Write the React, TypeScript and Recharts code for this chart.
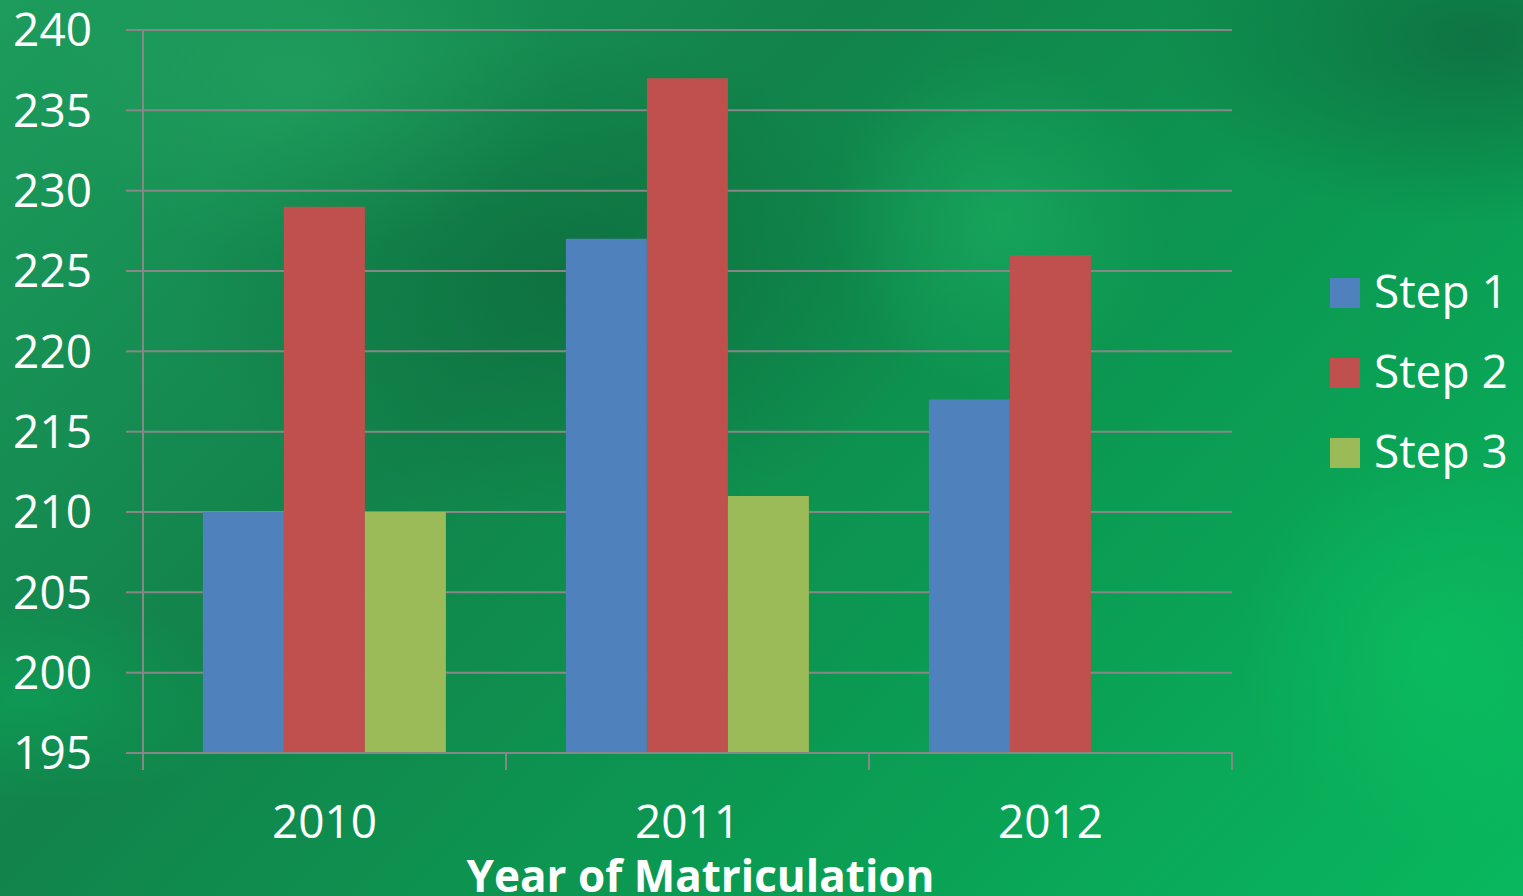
import React from 'react';
import { BarChart, Bar, XAxis, YAxis, CartesianGrid, Legend } from 'recharts';

const years = ['2010', '2011', '2012'];
const step1 = [210, 227, 217];
const step2 = [229, 237, 226];
const step3: (number | null)[] = [210, 211, null];
const yTicks = [195, 200, 205, 210, 215, 220, 225, 230, 235, 240];

const seriesNames = ['Step 1', 'Step 2', 'Step 3'];
const seriesColors = ['#4F81BD', '#C0504D', '#9BBB59'];

const data = years.map((y, i) => ({ year: y, s1: step1[i], s2: step2[i], s3: step3[i] }));

const FONT = '"Open Sans", sans-serif';
const GRID = '#878787';

const XTick = (props: any) => {
  const { x, y, payload, index } = props;
  const off = payload && payload.offset ? payload.offset : 0;
  const isLast = index === years.length - 1;
  return (
    <g>
      <line x1={x - off} y1={y} x2={x - off} y2={y + 17} stroke={GRID} strokeWidth={2} />
      {isLast && <line x1={x + off} y1={y - 1} x2={x + off} y2={y + 17} stroke={GRID} strokeWidth={2} />}
      <text x={x} y={y + 85} textAnchor="middle" fill="#ffffff" fontSize={46} fontFamily={FONT}>
        {payload.value}
      </text>
    </g>
  );
};

const AxisTitle = (props: any) => {
  const vb = props.viewBox || { x: 0, y: 0, width: 0, height: 0 };
  return (
    <text
      x={vb.x + vb.width / 2 + 13}
      y={vb.y + 139}
      textAnchor="middle"
      fill="#ffffff"
      fontSize={44}
      fontWeight="bold"
      fontFamily={FONT}
    >
      Year of Matriculation
    </text>
  );
};

const LegendContent = () => (
  <div style={{ fontFamily: FONT }}>
    {seriesNames.map((n, i) => (
      <div key={n} style={{ display: 'flex', alignItems: 'center', height: 80 }}>
        <div style={{ width: 30, height: 30, background: seriesColors[i], marginRight: 14 }} />
        <span style={{ color: '#ffffff', fontSize: 46, lineHeight: '80px', position: 'relative', top: -3 }}>{n}</span>
      </div>
    ))}
  </div>
);

export default function App() {
  return (
    <div
      style={{
        position: 'absolute',
        left: 0,
        top: 0,
        width: 1523,
        height: 896,
        overflow: 'hidden',
        background:
          'radial-gradient(circle at 1000px 220px, rgba(30,180,100,0.55) 0px, rgba(30,180,100,0) 170px),' +
          'radial-gradient(circle at 1440px 650px, rgba(12,200,100,0.5) 0px, rgba(12,200,100,0) 200px),' +
          'radial-gradient(ellipse at 300px 80px, rgba(40,170,100,0.45) 0px, rgba(40,170,100,0) 260px),' +
          'radial-gradient(ellipse at 30px 700px, rgba(10,170,90,0.5) 0px, rgba(10,170,90,0) 220px),' +
          'radial-gradient(ellipse at 560px 280px, rgba(10,100,55,0.55) 0px, rgba(10,100,55,0) 380px),' +
          'radial-gradient(ellipse at 1480px 40px, rgba(15,100,60,0.7) 0px, rgba(15,100,60,0) 320px),' +
          'linear-gradient(135deg, #1c9c5d 0%, #12834b 35%, #0b9a52 65%, #08b85e 100%)',
      }}
    >
      <BarChart
        width={1523}
        height={896}
        data={data}
        margin={{ top: 30, right: 291, bottom: 0, left: 0 }}
        barCategoryGap="16.5%"
        barGap={0}
      >
        <CartesianGrid vertical={false} stroke={GRID} strokeWidth={2} />
        <XAxis
          dataKey="year"
          height={143}
          tickSize={0}
          tickMargin={0}
          tickLine={false}
          axisLine={{ stroke: GRID, strokeWidth: 2 }}
          tick={<XTick />}
          interval={0}
          label={<AxisTitle />}
        />
        <YAxis
          width={143}
          domain={[195, 240]}
          ticks={yTicks}
          interval={0}
          tickSize={17}
          tickMargin={34}
          tickLine={{ stroke: GRID, strokeWidth: 2 }}
          axisLine={{ stroke: GRID, strokeWidth: 2 }}
          tick={{ fill: '#ffffff', fontSize: 46, fontFamily: FONT }}
        />
        <Legend
          layout="vertical"
          align="center"
          verticalAlign="middle"
          content={<LegendContent />}
          wrapperStyle={{ position: 'absolute', left: 1330, top: 253, width: 193 }}
        />
        <Bar dataKey="s1" name="Step 1" fill={seriesColors[0]} isAnimationActive={false} />
        <Bar dataKey="s2" name="Step 2" fill={seriesColors[1]} isAnimationActive={false} />
        <Bar dataKey="s3" name="Step 3" fill={seriesColors[2]} isAnimationActive={false} />
      </BarChart>
    </div>
  );
}
